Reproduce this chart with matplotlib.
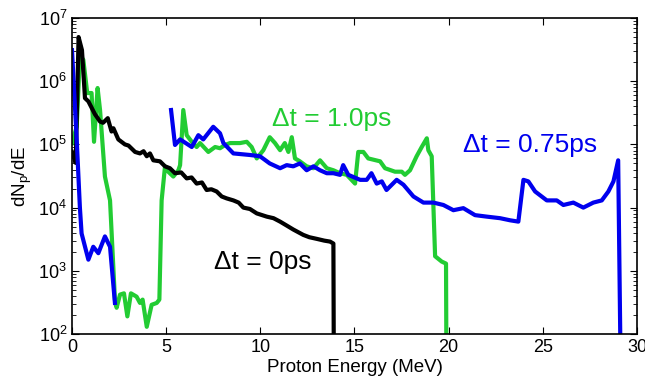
import numpy as np
import matplotlib
matplotlib.use('Agg')
import matplotlib.pyplot as plt
import matplotlib.ticker as ticker

plt.rcParams['font.family'] = ['Liberation Sans', 'DejaVu Sans']
plt.rcParams['mathtext.fontset'] = 'custom'
plt.rcParams['mathtext.rm'] = 'Liberation Sans'
plt.rcParams['mathtext.it'] = 'Liberation Sans'
plt.rcParams['mathtext.default'] = 'regular'

# dt = 0 ps (black)
e_0ps = [0, 0.2, 0.35, 0.53, 0.69, 0.87, 1.22, 1.49, 1.65, 1.9, 2.1, 2.2, 2.46, 2.81, 3.0,
         3.35, 3.61, 3.8, 3.97, 4.14, 4.32, 4.67, 4.94, 5.2, 5.47, 5.8, 6.09, 6.35, 6.62,
         6.9, 7.15, 7.4, 7.68, 7.95, 8.21, 8.57, 8.85, 9.1, 9.45, 9.81, 10.34, 10.7,
         11.05, 11.4, 11.75, 12.28, 12.6, 13.0, 13.4, 13.7, 13.88, 13.92]
n_0ps = [7.6e4, 5.1e4, 5.0e6, 3.1e6, 5.4e5, 4.8e5, 3.0e5, 2.3e5, 2.2e5, 2.6e5, 1.6e5,
         1.8e5, 1.2e5, 1.0e5, 9.6e4, 7.6e4, 7.2e4, 7.8e4, 6.5e4, 7.2e4, 5.6e4, 5.4e4,
         4.5e4, 4.2e4, 3.5e4, 3.6e4, 2.9e4, 3.0e4, 2.4e4, 2.5e4, 1.9e4, 1.95e4, 1.8e4,
         1.5e4, 1.4e4, 1.3e4, 1.2e4, 1.0e4, 9.5e3, 8.1e3, 7.2e3, 6.8e3, 6.0e3, 5.2e3,
         4.5e3, 3.7e3, 3.4e3, 3.2e3, 3.0e3, 2.9e3, 2.7e3, 1]

# dt = 0.75 ps (blue), gap marked with nan
e_075ps = [0, 0.25, 0.42, 0.51, 0.87, 1.13, 1.4, 1.75, 2.02, 2.28, 3.5,
           5.26, 5.47, 5.74, 6.36, 6.71, 6.97, 7.5, 7.86, 8.04, 8.57, 9.45, 9.98, 10.5,
           11.05, 11.4, 11.75, 12.1, 12.46, 12.82, 13.17, 13.53, 13.88, 14.23, 14.4,
           14.67, 15.3, 15.65, 15.9, 16.18, 16.45, 16.7, 17.24, 17.6, 18.13, 18.66,
           19.19, 19.72, 20.25, 20.78, 21.4, 22.02, 22.73, 23.26, 23.7, 23.97, 24.23,
           24.59, 25.21, 25.74, 26.09, 26.62, 27.15, 27.68, 28.13, 28.48, 28.75, 29.0,
           29.19]
n_075ps = [3.1e6, 1.2e5, 1.0e4, 3.9e3, 1.5e3, 2.4e3, 1.9e3, 3.5e3, 2.4e3, 3.1e2, np.nan,
           3.5e5, 9.8e4, 1.2e5, 9.1e4, 1.4e5, 1.2e5, 1.9e5, 1.5e5, 1.05e5, 7.2e4, 6.8e4,
           6.5e4, 5.0e4, 4.2e4, 4.7e4, 4.5e4, 5.0e4, 3.9e4, 4.5e4, 3.9e4, 3.5e4, 3.5e4,
           3.3e4, 4.7e4, 3.3e4, 2.75e4, 2.75e4, 3.5e4, 2.4e4, 2.6e4, 1.9e4, 2.75e4,
           2.3e4, 1.5e4, 1.2e4, 1.2e4, 1.1e4, 9.1e3, 9.8e3, 7.6e3, 7.2e3, 6.8e3, 6.3e3,
           6.0e3, 2.75e4, 2.6e4, 1.8e4, 1.3e4, 1.3e4, 1.1e4, 1.2e4, 1.0e4, 1.2e4, 1.3e4,
           1.8e4, 2.6e4, 5.6e4, 1]

# dt = 1.0 ps (green)
e_1ps = [0, 0.25, 0.42, 0.6, 0.81, 1.04, 1.17, 1.36, 1.49, 1.75, 2.02, 2.28, 2.37, 2.55,
         2.76, 2.94, 3.13, 3.43, 3.61, 3.75, 3.97, 4.23, 4.5, 4.64, 4.76, 4.94, 5.11,
         5.38, 5.65, 5.74, 5.91, 6.09, 6.36, 6.62, 6.8, 7.24, 7.6, 7.86, 8.13, 8.39,
         8.92, 9.28, 9.54, 9.81, 10.16, 10.5, 10.78, 11.05, 11.3, 11.49, 11.67, 11.84,
         12.1, 12.46, 12.82, 13.17, 13.53, 13.88, 14.23, 14.59, 15.03, 15.2, 15.47,
         15.73, 16.36, 16.62, 17.15, 17.51, 17.68, 17.95, 18.3, 18.57, 18.84, 18.92,
         19.1, 19.28, 19.63, 19.86, 19.9]
n_1ps = [1.05e5, 1.9e5, 2.5e6, 2.2e6, 6.5e5, 6.5e5, 1.1e5, 7.8e5, 3.5e5, 3.1e4, 1.3e4,
         3.5e2, 2.6e2, 4.2e2, 4.4e2, 1.9e2, 4.4e2, 3.9e2, 3.1e2, 3.5e2, 1.3e2, 2.9e2,
         3.1e2, 3.5e2, 1.3e4, 4.5e4, 3.7e4, 3.1e4, 3.9e4, 4.7e4, 3.5e5, 1.4e5, 1.1e5,
         9.1e4, 1.05e5, 7.6e4, 9.1e4, 8.7e4, 9.8e4, 1.05e5, 1.05e5, 1.1e5, 9.1e4,
         6.0e4, 8.1e4, 1.3e5, 1.05e5, 8.1e4, 1.05e5, 7.6e4, 1.3e5, 6.0e4, 5.4e4, 4.5e4,
         4.2e4, 5.6e4, 4.2e4, 3.9e4, 3.5e4, 3.3e4, 2.4e4, 7.6e4, 7.6e4, 6.0e4, 5.4e4,
         4.2e4, 3.7e4, 3.7e4, 3.3e4, 3.9e4, 6.5e4, 9.1e4, 1.25e5, 8.1e4, 6.5e4, 1.7e3,
         1.4e3, 1.3e3, 1]

green = '#22cc33'
blue = '#0000ee'

fig = plt.figure(figsize=(6.45, 3.9), dpi=100)
ax = fig.add_axes([0.1116, 0.1436, 0.876, 0.8102])

ax.plot(e_1ps, n_1ps, c=green, lw=3)
ax.plot(e_0ps, n_0ps, c='black', lw=3)
ax.plot(e_075ps, n_075ps, c=blue, lw=3)

ax.set_yscale('log')
ax.set_xlim(0, 30)
ax.set_ylim(1e2, 1e7)
ax.set_xticks([0, 5, 10, 15, 20, 25, 30])
ax.yaxis.set_major_formatter(ticker.LogFormatterMathtext())
ax.tick_params(which='both', direction='in', top=True, right=True, labelsize=13)
ax.tick_params(which='major', length=5, width=0.8)
ax.tick_params(which='minor', length=3, width=0.6)
for s in ax.spines.values():
    s.set_linewidth(1.2)

ax.set_xlabel('Proton Energy (MeV)', fontsize=13.5, labelpad=2)
ax.set_ylabel('dN$_p$/dE', fontsize=13.5, labelpad=3)

ax.text(13.8, 2.5e5, '\u0394t = 1.0ps', color=green, fontsize=19, ha='center', va='center')
ax.text(27.9, 9.8e4, '\u0394t = 0.75ps', color=blue, fontsize=19, ha='right', va='center')
ax.text(10.15, 1.4e3, '\u0394t = 0ps', color='black', fontsize=19, ha='center', va='center')

fig.savefig('out.png', dpi=100)
